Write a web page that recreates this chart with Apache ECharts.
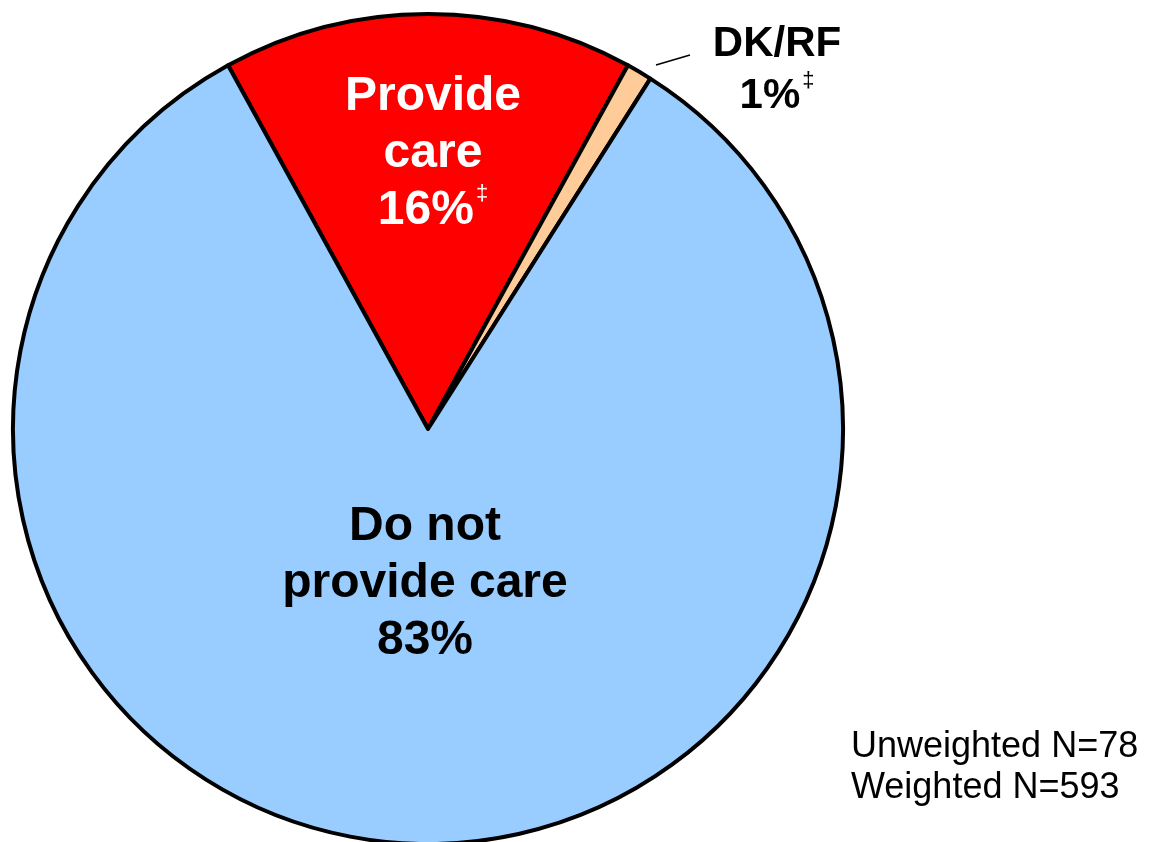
<!DOCTYPE html>
<html>
<head>
<meta charset="utf-8">
<script src="https://cdn.jsdelivr.net/npm/echarts@6/dist/echarts.min.js"></script>
<style>
  html, body { margin: 0; padding: 0; background: #fff; }
  #chart { width: 1150px; height: 842px; }
</style>
</head>
<body>
<div id="chart"></div>
<script>
// slices, clockwise from the left edge of the red slice
var categories = ['Provide care', 'DK/RF', 'Do not provide care'];
var labelText = ['Provide\ncare', 'DK/RF', 'Do not\nprovide care'];
var values = [16, 1, 83];
var dagger = [true, true, false];
var colors = ['#FF0000', '#FFCC99', '#99CCFF'];
var notes = ['Unweighted N=78', 'Weighted N=593'];

// where each label sits (center of text block)
var labelPos = [[433, 154], [777, 70], [425, 584]];
var labelSize = [48, 42, 48];
var labelColor = ['#fff', '#000', '#000'];

var chart = echarts.init(document.getElementById('chart'));

var data = categories.map(function (c, i) {
  return {
    name: c,
    value: values[i],
    itemStyle: { color: colors[i] },
    label: {
      color: labelColor[i],
      fontSize: labelSize[i],
      lineHeight: i == 1 ? 52 : 57,
      rich: {
        sup: { fontSize: 22, lineHeight: 22, verticalAlign: 'top', color: labelColor[i], fontWeight: 'normal', padding: [0, 0, 0, 2] }
      }
    }
  };
});

var option = {
  backgroundColor: '#fff',
  animation: false,
  series: [{
    type: 'pie',
    center: [428, 429],
    radius: [0, 415],
    startAngle: 118.8,
    clockwise: true,
    avoidLabelOverlap: false,
    itemStyle: { borderColor: '#000', borderWidth: 4 },
    emphasis: { disabled: true },
    label: {
      show: true,
      position: 'inside',
      fontFamily: 'Liberation Sans, Arial, sans-serif',
      fontWeight: 'bold',
      align: 'center',
      formatter: function (p) {
        var i = p.dataIndex;
        return labelText[i] + '\n' + Math.round(values[i]) + '%' + (dagger[i] ? '{sup|‡}' : '');
      }
    },
    labelLine: { show: false },
    labelLayout: function (p) {
      var pos = labelPos[p.dataIndex];
      return { x: pos[0], y: pos[1], align: 'center', verticalAlign: 'middle' };
    },
    data: data
  }],
  graphic: [
    {
      type: 'line',
      shape: { x1: 656, y1: 65, x2: 690, y2: 55 },
      style: { stroke: '#000', lineWidth: 1.5 }
    },
    {
      type: 'text',
      left: 851,
      top: 727,
      style: {
        text: notes.join('\n'),
        font: '36px "Liberation Sans", Arial, sans-serif',
        lineHeight: 41,
        fill: '#000'
      }
    }
  ]
};

chart.setOption(option);
</script>
</body>
</html>
